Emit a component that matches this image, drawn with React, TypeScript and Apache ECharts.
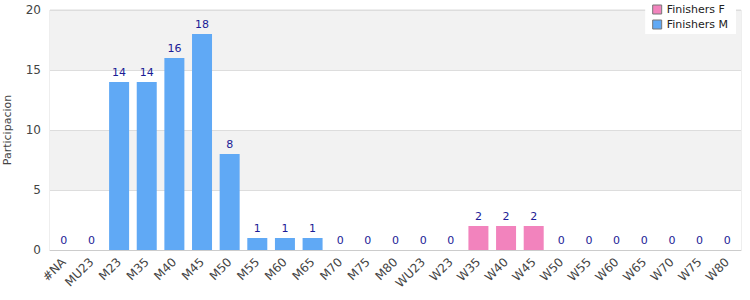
import React, { useEffect, useRef } from "react";
import * as echarts from "echarts";

const categories = [
  "#NA", "MU23", "M23", "M35", "M40", "M45", "M50", "M55", "M60", "M65", "M70", "M75", "M80",
  "WU23", "W23", "W35", "W40", "W45", "W50", "W55", "W60", "W65", "W70", "W75", "W80",
];
const finishersM: (number | string)[] = [
  0, 0, 14, 14, 16, 18, 8, 1, 1, 1, 0, 0, 0,
  "-", "-", "-", "-", "-", "-", "-", "-", "-", "-", "-", "-",
];
const finishersF: (number | string)[] = [
  "-", "-", "-", "-", "-", "-", "-", "-", "-", "-", "-", "-", "-",
  0, 0, 2, 2, 2, 0, 0, 0, 0, 0, 0, 0,
];
const yTicks = { min: 0, max: 20, interval: 5 };

const FONT = "DejaVu Sans";

export default function App() {
  const ref = useRef<HTMLDivElement>(null);
  useEffect(() => {
    if (!ref.current) return;
    const chart = echarts.init(ref.current, undefined, { renderer: "svg" });
    const label = {
      show: true,
      position: "top",
      color: "#1c1c96",
      fontSize: 11,
      fontFamily: FONT,
      distance: 4,
    };
    chart.setOption({
      animation: false,
      textStyle: { fontFamily: FONT },
      grid: {
        left: 50,
        right: 9,
        top: 10,
        bottom: 50,
        show: true,
        borderColor: "#dddddd",
        borderWidth: 1,
        containLabel: false,
        outerBoundsMode: "none",
      },
      legend: {
        orient: "vertical",
        right: 14,
        top: 0,
        backgroundColor: "#ffffff",
        padding: [4, 8, 4, 7],
        itemGap: 4,
        itemWidth: 9,
        itemHeight: 9,
        icon: "rect",
        itemStyle: { borderColor: "#777", borderWidth: 1 },
        textStyle: { fontSize: 11, color: "#222", fontFamily: FONT },
        data: ["Finishers F", "Finishers M"],
      },
      xAxis: {
        type: "category",
        data: categories,
        axisLine: { show: true, lineStyle: { color: "#cccccc", width: 1 } },
        axisTick: { show: false },
        axisLabel: {
          interval: 0,
          rotate: 45,
          color: "#444",
          fontSize: 12,
          fontFamily: FONT,
          margin: 10,
        },
      },
      yAxis: {
        type: "value",
        min: yTicks.min,
        max: yTicks.max,
        interval: yTicks.interval,
        name: "Participacion",
        nameLocation: "middle",
        nameRotate: 90,
        nameGap: 37,
        nameTextStyle: { color: "#444", fontSize: 11, fontFamily: FONT },
        axisLine: { show: false },
        axisTick: { show: false },
        axisLabel: { color: "#444", fontSize: 12, fontFamily: FONT, margin: 9 },
        splitLine: { show: true, lineStyle: { color: "#dddddd", width: 1 } },
        splitArea: { show: true, areaStyle: { color: ["#ffffff", "#f2f2f2"] } },
      },
      series: [
        {
          name: "Finishers F",
          type: "bar",
          stack: "total",
          data: finishersF,
          barWidth: 20,
          itemStyle: { color: "#f283bd" },
          label,
        },
        {
          name: "Finishers M",
          type: "bar",
          stack: "total",
          data: finishersM,
          barWidth: 20,
          itemStyle: { color: "#60a9f5" },
          label,
        },
      ],
    });
    return () => chart.dispose();
  }, []);
  return <div ref={ref} style={{ width: 750, height: 300, position: "absolute", left: 0, top: 0 }} />;
}
